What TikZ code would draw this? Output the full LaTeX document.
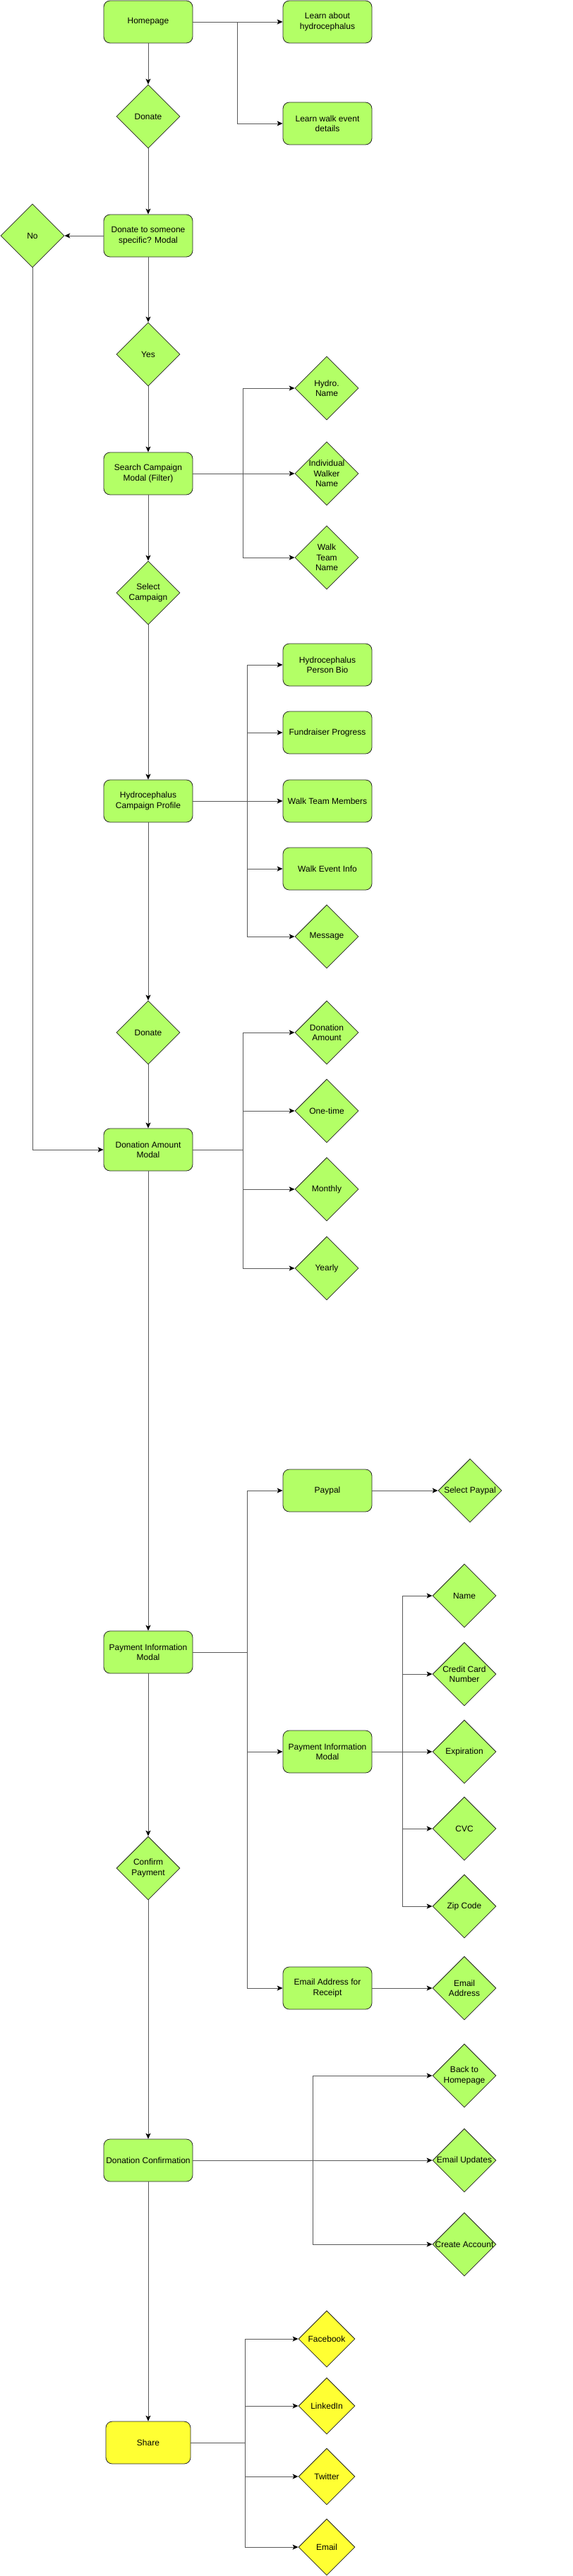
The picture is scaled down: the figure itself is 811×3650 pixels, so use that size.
\documentclass[tikz,border=0pt]{standalone}
\usepackage{fontspec}
\setmainfont{Liberation Sans}
\usetikzlibrary{shapes.geometric,arrows.meta}
\definecolor{pagegreen}{HTML}{B3FF66}
\definecolor{shareyellow}{HTML}{FFFF33}
\tikzset{screen/.style={draw=black!85,line width=0.8pt,fill=pagegreen,rounded corners=9pt,minimum width=126pt,minimum height=60pt,inner sep=2pt,align=center,font=\fontsize{12}{14.4}\selectfont}}
\tikzset{pick/.style={diamond,draw=black!85,line width=0.8pt,fill=pagegreen,minimum width=90pt,minimum height=90pt,inner sep=0pt}}
\tikzset{social/.style={pick,fill=shareyellow,minimum width=80pt,minimum height=80pt}}
\tikzset{flow/.style={-{Stealth[length=8pt,width=7pt,inset=2pt,black]},black!65,line width=0.9pt}}
\tikzset{every label/.style={align=center,inner sep=0pt,font=\fontsize{12}{14.4}\selectfont}}

\begin{document}
\begin{tikzpicture}[x=1pt,y=-1pt]
        \useasboundingbox (0,0) rectangle (811,3650);
        % main column
        \node[screen] (home) at (210,31) {Homepage};
        \node[pick,label={center:Donate}] (donate1) at (210,165) {};
        \node[screen] (specific) at (210,334) {Donate to someone\\specific? Modal};
        \node[pick,label={center:No}] (no) at (46,334) {};
        \node[pick,label={center:Yes}] (yes) at (210,502) {};
        \node[screen] (search) at (210,671) {Search Campaign\\Modal (Filter)};
        \node[pick,label={center:{Select\\Campaign}}] (select) at (210,840) {};
        \node[screen] (profile) at (210,1135) {Hydrocephalus\\Campaign Profile};
        \node[pick,label={center:Donate}] (donate2) at (210,1463) {};
        \node[screen] (amount) at (210,1629) {Donation Amount\\Modal};
        \node[screen] (payment) at (210,2341) {Payment Information\\Modal};
        \node[pick,label={center:{Confirm\\Payment}}] (confirm) at (210,2647) {};
        \node[screen] (confirmation) at (210,3061) {Donation Confirmation};
        \node[screen,fill=shareyellow,minimum width=120pt] (share) at (210,3461) {Share};
        % second column
        \node[screen] (learnhydro) at (464,31) {Learn about\\hydrocephalus};
        \node[screen] (learnwalk) at (464,175) {Learn walk event\\details};
        \node[pick,label={center:{Hydro.\\Name}}] (hydroname) at (463,550) {};
        \node[pick,label={center:{Individual\\Walker\\Name}}] (walker) at (463,671) {};
        \node[pick,label={center:{Walk\\Team\\Name}}] (teamname) at (463,790) {};
        \node[screen] (bio) at (464,942) {Hydrocephalus\\Person Bio};
        \node[screen] (progress) at (464,1038) {Fundraiser Progress};
        \node[screen] (members) at (464,1135) {Walk Team Members};
        \node[screen] (eventinfo) at (464,1231) {Walk Event Info};
        \node[pick,label={center:Message}] (message) at (463,1327) {};
        \node[pick,label={center:{Donation\\Amount}}] (amt) at (463,1463) {};
        \node[pick,label={center:One-time}] (onetime) at (463,1574) {};
        \node[pick,label={center:Monthly}] (monthly) at (463,1685) {};
        \node[pick,label={center:Yearly}] (yearly) at (463,1797) {};
        \node[screen] (paypal) at (464,2112) {Paypal};
        \node[screen] (payinfo) at (464,2482) {Payment Information\\Modal};
        \node[screen] (receipt) at (464,2817) {Email Address for\\Receipt};
        \node[social,label={center:Facebook}] (facebook) at (463,3314) {};
        \node[social,label={center:LinkedIn}] (linkedin) at (463,3409) {};
        \node[social,label={center:Twitter}] (twitter) at (463,3509) {};
        \node[social,label={center:Email}] (email) at (463,3609) {};
        % third column
        \node[pick,label={center:Select Paypal}] (selpaypal) at (666,2112) {};
        \node[pick,label={center:Name}] (name) at (658,2261) {};
        \node[pick,label={center:{Credit Card\\Number}}] (card) at (658,2372) {};
        \node[pick,label={center:Expiration}] (expiry) at (658,2482) {};
        \node[pick,label={center:CVC}] (cvc) at (658,2591) {};
        \node[pick,label={center:Zip Code}] (zip) at (658,2701) {};
        \node[pick,label={center:{Email\\Address}}] (emailaddr) at (658,2817) {};
        \node[pick,label={center:{Back to\\Homepage}}] (back) at (658,2941) {};
        \node[pick,label={center:Email Updates}] (updates) at (658,3061) {};
        \node[pick,label={center:Create Account}] (account) at (658,3180) {};
        % main flow
        \draw[flow] (home) -- (donate1);
        \draw[flow] (donate1) -- (specific);
        \draw[flow] (specific) -- (no);
        \draw[flow] (specific) -- (yes);
        \draw[flow] (yes) -- (search);
        \draw[flow] (search) -- (select);
        \draw[flow] (select) -- (profile);
        \draw[flow] (profile) -- (donate2);
        \draw[flow] (donate2) -- (amount);
        \draw[flow] (no) |- (amount);
        \draw[flow] (amount) -- (payment);
        \draw[flow] (payment) -- (confirm);
        \draw[flow] (confirm) -- (confirmation);
        \draw[flow] (confirmation) -- (share);
        % branches
        \draw[flow] (home) -- (learnhydro);
        \draw[flow] (home.east) -- ++(63,0) |- (learnwalk);
        \draw[flow] (search) -- (walker);
        \draw[flow] (search.east) -- ++(71,0) |- (hydroname);
        \draw[flow] (search.east) -- ++(71,0) |- (teamname);
        \draw[flow] (profile) -- (members);
        \draw[flow] (profile.east) -- ++(77,0) |- (bio);
        \draw[flow] (profile.east) -- ++(77,0) |- (progress);
        \draw[flow] (profile.east) -- ++(77,0) |- (eventinfo);
        \draw[flow] (profile.east) -- ++(77,0) |- (message);
        \draw[flow] (amount.east) -- ++(71,0) |- (amt);
        \draw[flow] (amount.east) -- ++(71,0) |- (onetime);
        \draw[flow] (amount.east) -- ++(71,0) |- (monthly);
        \draw[flow] (amount.east) -- ++(71,0) |- (yearly);
        \draw[flow] (payment.east) -- ++(77,0) |- (paypal);
        \draw[flow] (payment.east) -- ++(77,0) |- (payinfo);
        \draw[flow] (payment.east) -- ++(77,0) |- (receipt);
        \draw[flow] (paypal) -- (selpaypal);
        \draw[flow] (payinfo.east) -- ++(43,0) |- (name);
        \draw[flow] (payinfo.east) -- ++(43,0) |- (card);
        \draw[flow] (payinfo) -- (expiry);
        \draw[flow] (payinfo.east) -- ++(43,0) |- (cvc);
        \draw[flow] (payinfo.east) -- ++(43,0) |- (zip);
        \draw[flow] (receipt) -- (emailaddr);
        \draw[flow] (confirmation) -- (updates);
        \draw[flow] (confirmation.east) -- ++(170,0) |- (back);
        \draw[flow] (confirmation.east) -- ++(170,0) |- (account);
        \draw[flow] (share.east) -- ++(77,0) |- (facebook);
        \draw[flow] (share.east) -- ++(77,0) |- (linkedin);
        \draw[flow] (share.east) -- ++(77,0) |- (twitter);
        \draw[flow] (share.east) -- ++(77,0) |- (email);
\end{tikzpicture}
\end{document}
